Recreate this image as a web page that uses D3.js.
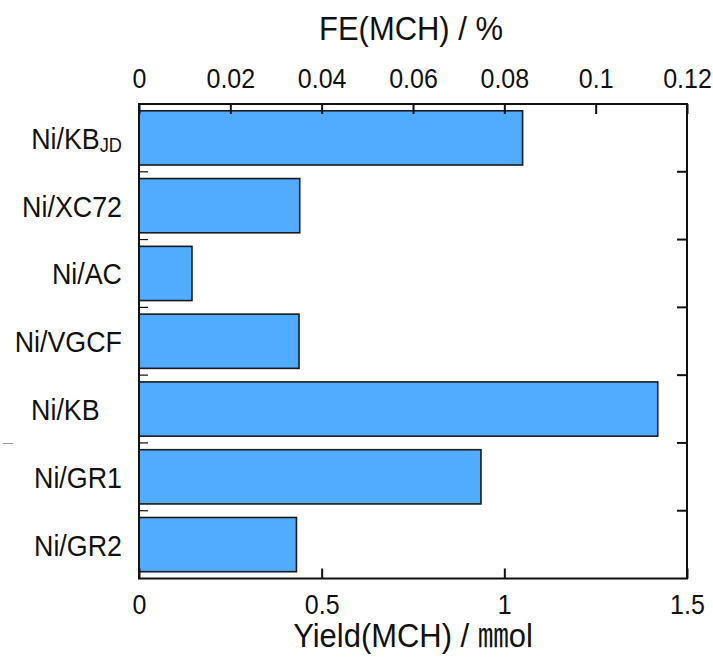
<!DOCTYPE html>
<html>
<head>
<meta charset="utf-8">
<script src="https://cdn.jsdelivr.net/npm/d3@7"></script>
<style>
  html, body { margin: 0; padding: 0; background: #fff; }
  svg { display: block; }
  text { font-family: "Liberation Sans", Arial, Helvetica, sans-serif; fill: #111; white-space: pre; }
</style>
</head>
<body>
<svg id="chart" width="713" height="657"></svg>
<script>
// Catalyst supports, top to bottom
const catalysts = ["Ni/KB_JD", "Ni/XC72", "Ni/AC", "Ni/VGCF", "Ni/KB", "Ni/GR1", "Ni/GR2"];
// Row labels as printed (Ni/KB carries trailing padding)
const rowLabels = ["Ni/KB_JD", "Ni/XC72", "Ni/AC", "Ni/VGCF", "Ni/KB\u00a0\u00a0\u00a0", "Ni/GR1", "Ni/GR2"];
// MCH yield in mmol
const yieldMmol = [1.05, 0.44, 0.145, 0.438, 1.42, 0.936, 0.431];
// Axis ticks
const yieldTicks = [0, 0.5, 1, 1.5];
const feTicks = [0, 0.02, 0.04, 0.06, 0.08, 0.1, 0.12];
const yieldDomain = [0, 1.5];
const feDomain = [0, 0.12];

const W = 713, H = 657;
const margin = { top: 104, right: 26, bottom: 78.5, left: 139 };
const x0 = margin.left, x1 = W - margin.right;
const y0 = margin.top, y1 = H - margin.bottom;
const SX = 0.91; // narrow letterforms

const svg = d3.select("#chart");

const x = d3.scaleLinear().domain(yieldDomain).range([x0, x1]);
const xTop = d3.scaleLinear().domain(feDomain).range([x0, x1]);
const y = d3.scaleBand().domain(catalysts).range([y0, y1]).paddingInner(0.2).paddingOuter(0.1);

const fmt = d3.format("~g");

// bars
svg.append("g").selectAll("rect")
  .data(catalysts)
  .join("rect")
  .attr("x", x(0))
  .attr("y", d => y(d))
  .attr("width", (d, i) => x(yieldMmol[i]) - x(0))
  .attr("height", y.bandwidth())
  .attr("fill", "#51abff")
  .attr("stroke", "#1a1a1a")
  .attr("stroke-width", 1.6);

// bottom axis (ticks point inward)
const gB = svg.append("g").attr("transform", `translate(0,${y1})`)
  .call(d3.axisBottom(x).tickValues(yieldTicks).tickSizeInner(-10).tickSizeOuter(0).tickFormat(fmt));
// top axis
const gT = svg.append("g").attr("transform", `translate(0,${y0})`)
  .call(d3.axisTop(xTop).tickValues(feTicks).tickSizeInner(-10).tickSizeOuter(0).tickFormat(fmt));

[gB, gT].forEach(g => {
  g.select(".domain").remove();
  g.selectAll(".tick line").attr("stroke", "#111").attr("stroke-width", 2);
  g.selectAll(".tick text")
    .attr("font-size", 27.5)
    .attr("font-family", "'Liberation Sans', Arial, sans-serif")
    .attr("fill", "#111")
    .attr("dy", null)
    .attr("transform", `scale(${SX},1)`);
});
gB.selectAll(".tick text").attr("y", 35.5);
gT.selectAll(".tick text").attr("y", -16);

// right side ticks between categories
const boundaries = catalysts.slice(1).map(c => y(c) - y.step() * y.paddingInner() / 2);
svg.append("g").selectAll("line")
  .data(boundaries)
  .join("line")
  .attr("x1", x1 - 10).attr("x2", x1)
  .attr("y1", d => d).attr("y2", d => d)
  .attr("stroke", "#111").attr("stroke-width", 2);
// left side ticks (thin)
svg.append("g").selectAll("line")
  .data(boundaries)
  .join("line")
  .attr("x1", x0).attr("x2", x0 + 9)
  .attr("y1", d => d).attr("y2", d => d)
  .attr("stroke", "#111").attr("stroke-width", 1.2);

// frame
svg.append("rect")
  .attr("x", x0).attr("y", y0)
  .attr("width", x1 - x0).attr("height", y1 - y0)
  .attr("fill", "none").attr("stroke", "#111").attr("stroke-width", 2);

// category labels
const lab = svg.append("g").selectAll("g")
  .data(catalysts)
  .join("g")
  .attr("transform", d => `translate(122,${y(d) + y.bandwidth() / 2 + 11}) scale(${SX},1)`);
lab.append("text")
  .attr("text-anchor", "end")
  .attr("font-size", 29.5)
  .each(function (d, i) {
    const t = d3.select(this);
    const parts = rowLabels[i].split("_");
    t.append("tspan").text(parts[0]);
    if (parts[1]) {
      t.append("tspan").attr("font-size", 20).attr("dy", 3).text(parts[1]);
    }
  });

// axis titles
svg.append("g")
  .attr("transform", `translate(${(x0 + x1) / 2 - 2},40) scale(${SX},1)`)
  .append("text")
  .attr("text-anchor", "middle")
  .attr("font-size", 34)
  .text("FE(MCH) / %");

const bt = svg.append("g")
  .attr("transform", `translate(${(x0 + x1) / 2},647) scale(${SX},1)`)
  .append("text")
  .attr("text-anchor", "middle")
  .attr("font-size", 34);
bt.append("tspan").text("Yield(MCH) / ");
bt.append("tspan").attr("font-family", "'Noto Sans CJK JP', sans-serif").attr("font-size", 34).text("㎜");
bt.append("tspan").text("ol");

// small stray dash at the left edge
svg.append("line")
  .attr("x1", 3).attr("x2", 13).attr("y1", 443.5).attr("y2", 443.5)
  .attr("stroke", "#999").attr("stroke-width", 1);
</script>
</body>
</html>
